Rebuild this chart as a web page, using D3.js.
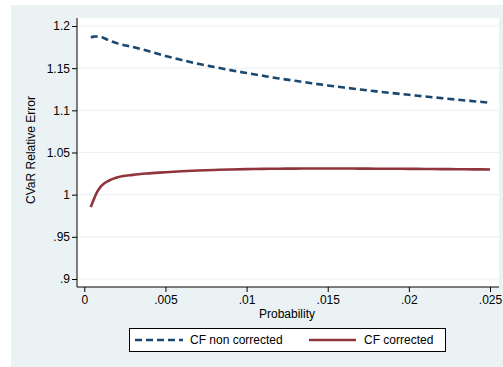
<!DOCTYPE html>
<html>
<head>
<meta charset="utf-8">
<script src="https://cdn.jsdelivr.net/npm/d3@7"></script>
<style>
  html, body { margin: 0; padding: 0; background: #ffffff; }
  svg { display: block; font-family: "Liberation Sans", Arial, Helvetica, sans-serif; }
</style>
</head>
<body>
<svg id="chart" width="503" height="367"></svg>
<script>
// Probability levels
const probability = [0.0004, 0.0005, 0.0006, 0.0007, 0.0008, 0.001, 0.0012, 0.0015, 0.002, 0.003, 0.004, 0.005,
  0.006, 0.007, 0.008, 0.009, 0.010, 0.011, 0.012, 0.013, 0.014, 0.015, 0.016, 0.017,
  0.018, 0.019, 0.020, 0.021, 0.022, 0.023, 0.024, 0.025];

// CVaR relative error, Cornish-Fisher without correction
const cfNonCorrected = [1.1866, 1.1871, 1.1874, 1.1876, 1.1876, 1.1870, 1.1858, 1.1832, 1.1797, 1.1750, 1.1700, 1.1645,
  1.1597, 1.1552, 1.1514, 1.1477, 1.1443, 1.1410, 1.1378, 1.1350, 1.1322, 1.1295, 1.1270, 1.1248,
  1.1225, 1.1204, 1.1184, 1.1164, 1.1145, 1.1126, 1.1108, 1.1090];

// CVaR relative error, Cornish-Fisher with correction
const cfCorrected = [0.9852, 0.9905, 0.9950, 0.9995, 1.0035, 1.0093, 1.0130, 1.0165, 1.0203, 1.0235, 1.0253, 1.0266,
  1.0277, 1.0286, 1.0293, 1.0299, 1.0303, 1.0306, 1.0308, 1.0309, 1.0310, 1.0310, 1.0310, 1.0309,
  1.0308, 1.0307, 1.0306, 1.0305, 1.0303, 1.0302, 1.0300, 1.0299];

const xTicks = [0, 0.005, 0.01, 0.015, 0.02, 0.025];
const xTickLabels = ["0", ".005", ".01", ".015", ".02", ".025"];
const yTicks = [0.9, 0.95, 1, 1.05, 1.1, 1.15, 1.2];
const yTickLabels = [".9", ".95", "1", "1.05", "1.1", "1.15", "1.2"];

const seriesNames = ["CF non corrected", "CF corrected"];
const seriesColors = ["#1a476f", "#90353b"];

const svg = d3.select("#chart");
const bg = "#eaf2f3";

// Graph region
svg.append("rect").attr("x", 11).attr("y", 5).attr("width", 492).attr("height", 362).attr("fill", bg);

// Plot region
const plot = { left: 77, right: 499, top: 18, bottom: 287 };
svg.append("rect")
  .attr("x", plot.left).attr("y", plot.top)
  .attr("width", plot.right - plot.left).attr("height", plot.bottom - plot.top)
  .attr("fill", "#ffffff");

const x = d3.scaleLinear().domain([0, 0.025]).range([84.3, 490]);
const y = d3.scaleLinear().domain([0.9, 1.2]).range([279, 26]);

// Horizontal gridlines
svg.append("g").selectAll("line").data(yTicks).join("line")
  .attr("x1", plot.left).attr("x2", plot.right)
  .attr("y1", d => y(d)).attr("y2", d => y(d))
  .attr("stroke", bg).attr("stroke-width", 1.2);

// Series lines
const pts = vals => probability.map((p, i) => [p, vals[i]]);
const line = d3.line().x(d => x(d[0])).y(d => y(d[1])).curve(d3.curveMonotoneX);

svg.append("path").datum(pts(cfNonCorrected))
  .attr("d", line).attr("fill", "none")
  .attr("stroke", seriesColors[0]).attr("stroke-width", 2.6)
  .attr("stroke-dasharray", "7,4");

svg.append("path").datum(pts(cfCorrected))
  .attr("d", line).attr("fill", "none")
  .attr("stroke", seriesColors[1]).attr("stroke-width", 2.6);

// Y axis
const yAxis = d3.axisLeft(y).tickValues(yTicks)
  .tickFormat((d, i) => yTickLabels[i]).tickSize(5).tickPadding(2);
const gy = svg.append("g").attr("transform", `translate(${plot.left},0)`).call(yAxis);
gy.select(".domain").attr("d", `M0,${plot.top}V${plot.bottom}`).attr("stroke", "#000");
gy.selectAll(".tick line").attr("stroke", "#000");
gy.selectAll(".tick text").attr("font-size", 12).attr("fill", "#000")
  .attr("font-family", "Liberation Sans, Arial, sans-serif");

// X axis
const xAxis = d3.axisBottom(x).tickValues(xTicks)
  .tickFormat((d, i) => xTickLabels[i]).tickSize(5).tickPadding(3);
const gx = svg.append("g").attr("transform", `translate(0,${plot.bottom})`).call(xAxis);
gx.select(".domain").attr("d", `M${plot.left},0H${plot.right}`).attr("stroke", "#000");
gx.selectAll(".tick line").attr("stroke", "#000");
gx.selectAll(".tick text").attr("font-size", 12).attr("fill", "#000")
  .attr("font-family", "Liberation Sans, Arial, sans-serif");

// Axis titles
svg.append("text").attr("x", 287).attr("y", 318).attr("text-anchor", "middle")
  .attr("font-size", 12).attr("fill", "#000").text("Probability");
svg.append("text").attr("transform", "translate(34.5,150) rotate(-90)")
  .attr("text-anchor", "middle").attr("font-size", 12).attr("fill", "#000")
  .text("CVaR Relative Error");

// Legend
const lg = svg.append("g");
lg.append("rect").attr("x", 129.5).attr("y", 328.5).attr("width", 316).attr("height", 23)
  .attr("fill", "#fff").attr("stroke", "#000").attr("stroke-width", 1);
const legendItems = [
  { sx: 135, ex: 183, tx: 190, dash: "7,4" },
  { sx: 309, ex: 356, tx: 364, dash: null }
];
legendItems.forEach((it, i) => {
  lg.append("line").attr("x1", it.sx).attr("x2", it.ex).attr("y1", 340).attr("y2", 340)
    .attr("stroke", seriesColors[i]).attr("stroke-width", 2.6)
    .attr("stroke-dasharray", it.dash);
  lg.append("text").attr("x", it.tx).attr("y", 344.3).attr("font-size", 12)
    .attr("fill", "#000").text(seriesNames[i]);
});
</script>
</body>
</html>
